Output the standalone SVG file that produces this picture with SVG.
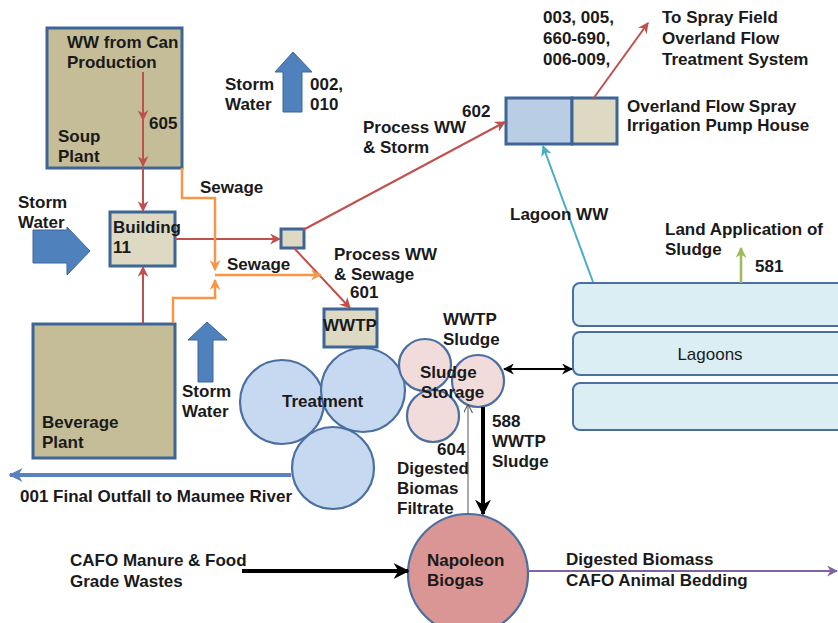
<svg xmlns="http://www.w3.org/2000/svg" width="838" height="623" viewBox="0 0 838 623">
<style>
text{font-family:"Liberation Sans",Arial,sans-serif;font-size:17px;font-weight:bold;fill:#1a1a1a}
.n{font-weight:normal}
.tan{fill:#c4bd97;stroke:#3d6596;stroke-width:3}
.ltan{fill:#ddd9c3;stroke:#3d6596;stroke-width:3}
.bc{fill:#c6d9f1;stroke:#4a6fa0;stroke-width:2.2}
.pc{fill:#f2dcdb;stroke:#4a6fa0;stroke-width:2.2}
.lag{fill:#dbeef4;stroke:#4a6fa0;stroke-width:2}
.blk{fill:#4f81bd;stroke:#3d6596;stroke-width:1}
.red{stroke:#c0504d;stroke-width:2;fill:none;marker-end:url(#mRed)}
.org{stroke:#f79646;stroke-width:2.5;fill:none}
</style>
<defs>
<marker id="mRed" viewBox="0 0 10 10" refX="9" refY="5" markerWidth="11" markerHeight="11" markerUnits="userSpaceOnUse" orient="auto"><path d="M0,0 L10,5 L0,10 L3,5 z" fill="#c0504d"/></marker>
<marker id="mOrg" viewBox="0 0 10 10" refX="9" refY="5" markerWidth="11" markerHeight="11" markerUnits="userSpaceOnUse" orient="auto"><path d="M0,0 L10,5 L0,10 L3,5 z" fill="#f79646"/></marker>
<marker id="mCyan" viewBox="0 0 10 10" refX="9" refY="5" markerWidth="11" markerHeight="11" markerUnits="userSpaceOnUse" orient="auto"><path d="M0,0 L10,5 L0,10 L3,5 z" fill="#4bacc6"/></marker>
<marker id="mGreen" viewBox="0 0 10 10" refX="9" refY="5" markerWidth="11" markerHeight="11" markerUnits="userSpaceOnUse" orient="auto"><path d="M0,0 L10,5 L0,10 L3,5 z" fill="#9bbb59"/></marker>
<marker id="mPurple" viewBox="0 0 10 10" refX="9" refY="5" markerWidth="11" markerHeight="11" markerUnits="userSpaceOnUse" orient="auto"><path d="M0,0 L10,5 L0,10 L3,5 z" fill="#8064a2"/></marker>
<marker id="mBlue" viewBox="0 0 10 10" refX="9" refY="5" markerWidth="14" markerHeight="14" markerUnits="userSpaceOnUse" orient="auto"><path d="M0,0 L10,5 L0,10 L3,5 z" fill="#5b82bf"/></marker>
<marker id="mBlack" viewBox="0 0 10 10" refX="9" refY="5" markerWidth="16" markerHeight="16" markerUnits="userSpaceOnUse" orient="auto"><path d="M0,0 L10,5 L0,10 L3,5 z" fill="#000"/></marker>
<marker id="mBlackS" viewBox="0 0 10 10" refX="9" refY="5" markerWidth="11" markerHeight="11" markerUnits="userSpaceOnUse" orient="auto"><path d="M0,0 L10,5 L0,10 L3,5 z" fill="#000"/></marker>
<marker id="mBlackSS" viewBox="0 0 10 10" refX="1" refY="5" markerWidth="11" markerHeight="11" markerUnits="userSpaceOnUse" orient="auto"><path d="M10,0 L0,5 L10,10 L7,5 z" fill="#000"/></marker>
<marker id="mThin" viewBox="0 0 10 10" refX="9" refY="5" markerWidth="9" markerHeight="9" markerUnits="userSpaceOnUse" orient="auto"><path d="M0,0 L10,5 L0,10" fill="none" stroke="#555" stroke-width="1.2"/></marker>
</defs>
<rect width="838" height="623" fill="#fff"/>

<g id="lagoons">
<rect class="lag" x="573" y="283" width="280" height="43" rx="7"/>
<rect class="lag" x="573" y="332" width="280" height="43" rx="7"/>
<rect class="lag" x="573" y="383" width="280" height="47" rx="7"/>
<text class="n" x="710" y="360" text-anchor="middle">Lagoons</text>
</g>

<g id="treatment">
<circle class="bc" cx="282" cy="402" r="42"/>
<circle class="bc" cx="363" cy="390" r="42"/>
<circle class="bc" cx="333" cy="468" r="41"/>
<text x="282" y="407">Treatment</text>
</g>

<g id="sludge-storage">
<circle class="pc" cx="433" cy="416" r="26"/>
<circle class="pc" cx="425" cy="365" r="26"/>
<circle class="pc" cx="478" cy="381" r="26"/>
<text x="420" y="378">Sludge</text>
<text x="421" y="398">Storage</text>
</g>

<g id="napoleon-biogas">
<circle cx="468" cy="574" r="60" fill="#d99694" stroke="#4a6fa0" stroke-width="2.2"/>
<text x="427" y="566">Napoleon</text>
<text x="427" y="586">Biogas</text>
</g>

<g id="soup-plant">
<rect class="tan" x="47" y="28" width="135" height="140"/>
<text x="67" y="48">WW from Can</text>
<text x="67" y="68">Production</text>
<text x="58" y="142">Soup</text>
<text x="58" y="162">Plant</text>
<text x="149" y="129">605</text>
</g>

<g id="building-11">
<rect class="ltan" x="110" y="212" width="65" height="54"/>
<text x="113" y="233">Building</text>
<text x="113" y="253">11</text>
</g>

<g id="beverage-plant">
<rect class="tan" x="33" y="324" width="142" height="134"/>
<text x="42" y="428">Beverage</text>
<text x="42" y="448">Plant</text>
</g>

<g id="junction">
<rect class="ltan" x="281" y="229" width="23" height="19"/>
</g>

<g id="wwtp">
<rect class="ltan" x="324" y="309" width="53" height="38"/>
<text x="350" y="331" text-anchor="middle">WWTP</text>
</g>

<g id="pump-house">
<rect x="506" y="98" width="66" height="46" fill="#b9cde5" stroke="#3d6596" stroke-width="3"/>
<rect x="572" y="98" width="45" height="46" fill="#ddd9c3" stroke="#3d6596" stroke-width="3"/>
<text x="627" y="112">Overland Flow Spray</text>
<text x="627" y="131">Irrigation Pump House</text>
</g>

<g id="storm-left">
<polygon class="blk" points="33,230 67,230 67,227 90,251 67,275 67,263 33,263"/>
<text x="18" y="208">Storm</text>
<text x="18" y="228">Water</text>
</g>
<g id="storm-top">
<polygon class="blk" points="283,112 283,72 275,72 293,52 312,72 302,72 302,112"/>
<text x="225" y="90">Storm</text>
<text x="225" y="110">Water</text>
<text x="310" y="90">002,</text>
<text x="310" y="110">010</text>
</g>
<g id="storm-bottom">
<polygon class="blk" points="198,382 198,340 188,340 207,322 227,340 213,340 213,382"/>
<text x="182" y="397">Storm</text>
<text x="182" y="417">Water</text>
</g>

<g id="connectors">
<path class="red" d="M143,72 V120"/>
<path class="red" d="M143,120 V166"/>
<path class="red" d="M143,168 V211"/>
<path class="red" d="M143,323 V267"/>
<path class="red" d="M175,239 H280"/>
<path class="red" d="M303,230 L505,122"/>
<path class="red" d="M294,248 L350,308"/>
<path class="red" d="M593,99 L648,23"/>
<path class="org" d="M182,168 V198 H215 V270" marker-end="url(#mOrg)"/>
<path class="org" d="M173,323 V298 H215 V280" marker-end="url(#mOrg)"/>
<path class="org" d="M215,275 H321" marker-end="url(#mOrg)"/>
<path d="M593,282 L543,146" stroke="#4bacc6" stroke-width="2" fill="none" marker-end="url(#mCyan)"/>
<path d="M741,283 V248" stroke="#9bbb59" stroke-width="2.5" fill="none" marker-end="url(#mGreen)"/>
<path d="M504,369 H572" stroke="#000" stroke-width="2" fill="none" marker-start="url(#mBlackSS)" marker-end="url(#mBlackS)"/>
<path d="M291,475 H10" stroke="#5b82bf" stroke-width="4" fill="none" marker-end="url(#mBlue)"/>
<path d="M483,407 V514" stroke="#000" stroke-width="4" fill="none" marker-end="url(#mBlack)"/>
<path d="M468,514 V405" stroke="#555" stroke-width="1" fill="none" marker-end="url(#mThin)"/>
<path d="M242,571 H408" stroke="#000" stroke-width="4" fill="none" marker-end="url(#mBlack)"/>
<path d="M528,571 H837" stroke="#8064a2" stroke-width="2" fill="none" marker-end="url(#mPurple)"/>
</g>

<g id="labels">
<text x="200" y="193">Sewage</text>
<text x="227" y="270">Sewage</text>
<text x="462" y="117" font-size="15">602</text>
<text x="363" y="133">Process WW</text>
<text x="363" y="153">&amp; Storm</text>
<text x="543" y="23">003, 005,</text>
<text x="543" y="44">660-690,</text>
<text x="543" y="65">006-009,</text>
<text x="662" y="23">To Spray Field</text>
<text x="662" y="44">Overland Flow</text>
<text x="662" y="65">Treatment System</text>
<text x="510" y="220">Lagoon WW</text>
<text x="665" y="235">Land Application of</text>
<text x="665" y="255">Sludge</text>
<text x="755" y="272">581</text>
<text x="334" y="260">Process WW</text>
<text x="334" y="280">&amp; Sewage</text>
<text x="350" y="298">601</text>
<text x="443" y="325">WWTP</text>
<text x="443" y="345">Sludge</text>
<text x="492" y="427">588</text>
<text x="492" y="447">WWTP</text>
<text x="492" y="467">Sludge</text>
<text x="437" y="455">604</text>
<text x="397" y="474">Digested</text>
<text x="397" y="494">Biomas</text>
<text x="397" y="514">Filtrate</text>
<text x="20" y="502">001 Final Outfall to Maumee River</text>
<text x="70" y="566">CAFO Manure &amp; Food</text>
<text x="70" y="587">Grade Wastes</text>
<text x="566" y="565">Digested Biomass</text>
<text x="566" y="586">CAFO Animal Bedding</text>
</g>
</svg>
